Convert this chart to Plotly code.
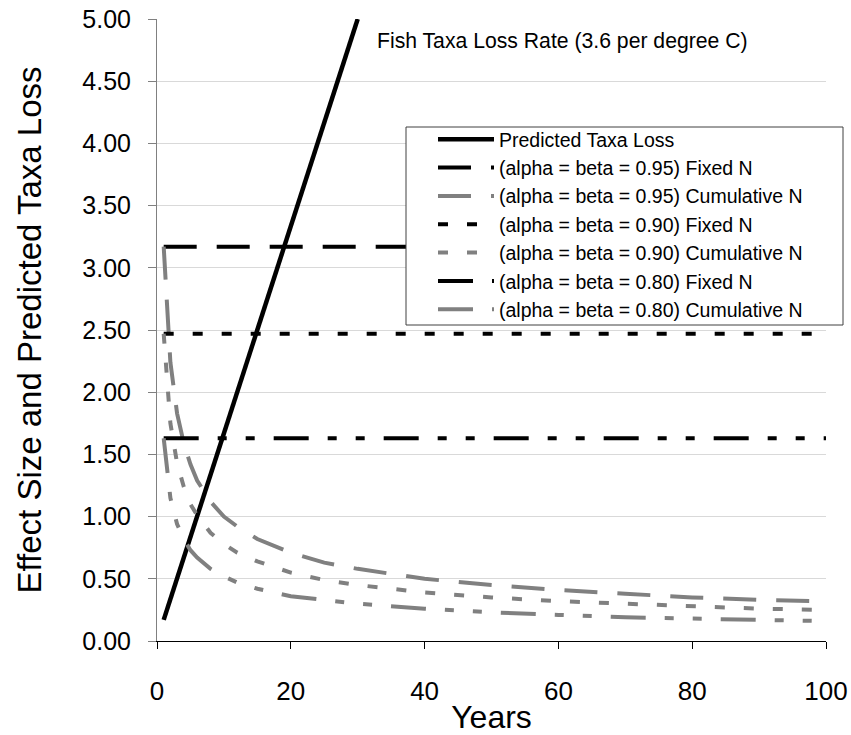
import plotly.graph_objects as go

# ---- data ----
pred_years = [1, 30]
pred_loss = [0.17, 5.00]

fixed_years = [1, 100]
fixed_095 = [3.17, 3.17]
fixed_090 = [2.47, 2.47]
fixed_080 = [1.63, 1.63]

cum_years = [1, 2, 3, 4, 5, 6, 8, 10, 12, 15, 20, 25, 30, 40, 50, 60, 70, 80, 90, 100]
cum_095 = [3.17, 2.24, 1.83, 1.59, 1.42, 1.29, 1.12, 1.00, 0.92, 0.82, 0.71, 0.63, 0.58,
           0.50, 0.45, 0.41, 0.38, 0.35, 0.33, 0.32]
cum_090 = [2.47, 1.75, 1.43, 1.24, 1.10, 1.01, 0.87, 0.78, 0.71, 0.64, 0.55, 0.49, 0.45,
           0.39, 0.35, 0.32, 0.30, 0.28, 0.26, 0.25]
cum_080 = [1.63, 1.15, 0.94, 0.82, 0.73, 0.67, 0.58, 0.52, 0.47, 0.42, 0.36, 0.33, 0.30,
           0.26, 0.23, 0.21, 0.19, 0.18, 0.17, 0.16]

x_ticks = [0, 20, 40, 60, 80, 100]
y_ticks = [0, 0.5, 1, 1.5, 2, 2.5, 3, 3.5, 4, 4.5, 5]
y_tick_text = ["%.2f" % v for v in y_ticks]

names = [
    "Predicted Taxa Loss",
    "(alpha = beta = 0.95) Fixed N",
    "(alpha = beta = 0.95) Cumulative N",
    "(alpha = beta = 0.90) Fixed N",
    "(alpha = beta = 0.90) Cumulative N",
    "(alpha = beta = 0.80) Fixed N",
    "(alpha = beta = 0.80) Cumulative N",
]

BLACK = "#000000"
GRAY = "#808080"
DASH_LONG = "33px,20px"
DASH_DOT = "10px,19px"
DASH_LDD = "35px,19px,9px,19px,9px,19px"

fig = go.Figure()
fig.add_trace(go.Scatter(x=pred_years, y=pred_loss, mode="lines", name=names[0],
                         line=dict(color=BLACK, width=4.5)))
fig.add_trace(go.Scatter(x=fixed_years, y=fixed_095, mode="lines", name=names[1],
                         line=dict(color=BLACK, width=4, dash=DASH_LONG)))
fig.add_trace(go.Scatter(x=cum_years, y=cum_095, mode="lines", name=names[2],
                         line=dict(color=GRAY, width=4, dash=DASH_LONG)))
fig.add_trace(go.Scatter(x=fixed_years, y=fixed_090, mode="lines", name=names[3],
                         line=dict(color=BLACK, width=4, dash=DASH_DOT)))
fig.add_trace(go.Scatter(x=cum_years, y=cum_090, mode="lines", name=names[4],
                         line=dict(color=GRAY, width=4, dash=DASH_DOT)))
fig.add_trace(go.Scatter(x=fixed_years, y=fixed_080, mode="lines", name=names[5],
                         line=dict(color=BLACK, width=4, dash=DASH_LDD)))
fig.add_trace(go.Scatter(x=cum_years, y=cum_080, mode="lines", name=names[6],
                         line=dict(color=GRAY, width=4, dash=DASH_LDD)))

ARIAL = "Liberation Sans, Arial, sans-serif"

# plot area in pixels: left 157, right 826, top 19, bottom 641
L, R, T, B = 157, 826, 19, 641
def px_x(p):
    return (p - L) / (R - L)
def px_y(p):
    return (B - p) / (B - T)

fig.update_layout(
    width=851, height=735,
    margin=dict(l=L, r=851 - R, t=T, b=735 - B, autoexpand=False),
    paper_bgcolor="white", plot_bgcolor="white",
    font=dict(family=ARIAL, color="black"),
    showlegend=True,
    legend=dict(
        x=px_x(433), y=px_y(120), xanchor="left", yanchor="top",
        bgcolor="rgba(0,0,0,0)", borderwidth=0,
        font=dict(family=ARIAL, size=19.5, color="black"),
        itemwidth=56, tracegroupgap=0,
    ),
    shapes=[dict(
        type="rect", xref="paper", yref="paper", layer="above",
        x0=px_x(406), x1=px_x(843), y0=px_y(325), y1=px_y(127),
        fillcolor="white", line=dict(color="#404040", width=1),
    )],
    xaxis=dict(
        range=[0, 100], tickvals=x_ticks, ticktext=[str(v) for v in x_ticks],
        showgrid=False, zeroline=False, automargin=False,
        showline=True, linecolor="black", linewidth=1,
        ticks="outside", ticklen=7, tickcolor="black",
        ticklabelstandoff=20, ticklabeloverflow="allow",
        tickfont=dict(family=ARIAL, size=26, color="black"),
        title=dict(text="Years", font=dict(family=ARIAL, size=32, color="black"), standoff=2),
    ),
    yaxis=dict(
        range=[0, 5], tickvals=y_ticks, ticktext=y_tick_text,
        showgrid=True, gridcolor="#d9d9d9", gridwidth=1, zeroline=False, automargin=False,
        showline=True, linecolor="#808080", linewidth=1,
        ticks="outside", ticklen=8, tickcolor="#808080",
        ticklabelstandoff=12,
        tickfont=dict(family=ARIAL, size=25, color="black"),
        title=dict(text="Effect Size and Predicted Taxa Loss",
                   font=dict(family=ARIAL, size=33, color="black"), standoff=30),
    ),
    annotations=[dict(
        text="Fish Taxa Loss Rate (3.6 per degree C)",
        xref="paper", yref="paper", x=px_x(562), y=px_y(41),
        xanchor="center", yanchor="middle", showarrow=False,
        font=dict(family=ARIAL, size=21.2, color="black"),
    )],
)

fig.write_html("out.html")
